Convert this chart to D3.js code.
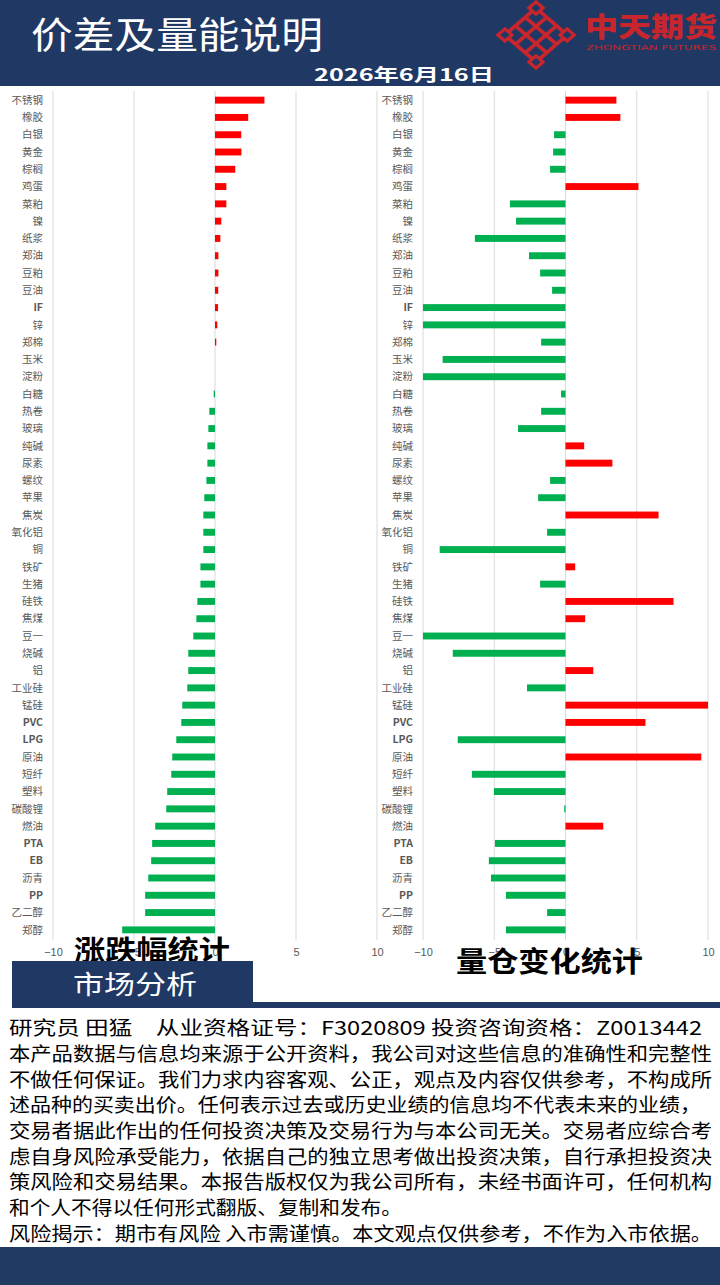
<!DOCTYPE html>
<html><head><meta charset="utf-8">
<script src="https://cdn.jsdelivr.net/npm/d3@7/dist/d3.min.js"></script>
<style>body{margin:0;background:#fff}svg{display:block}</style>
</head><body>
<svg id="c" width="720" height="1285"></svg>
<script>
const categories = ["不锈钢","橡胶","白银","黄金","棕榈","鸡蛋","菜粕","镍","纸浆","郑油","豆粕","豆油","IF","锌","郑棉","玉米","淀粉","白糖","热卷","玻璃","纯碱","尿素","螺纹","苹果","焦炭","氧化铝","铜","铁矿","生猪","硅铁","焦煤","豆一","烧碱","铝","工业硅","锰硅","PVC","LPG","原油","短纤","塑料","碳酸锂","燃油","PTA","EB","沥青","PP","乙二醇","郑醇"];
const priceChange = [3.05,2.05,1.62,1.63,1.25,0.70,0.70,0.39,0.33,0.21,0.21,0.20,0.19,0.14,0.08,0,0,-0.08,-0.35,-0.41,-0.47,-0.47,-0.53,-0.66,-0.72,-0.72,-0.72,-0.90,-0.90,-1.09,-1.15,-1.34,-1.65,-1.65,-1.71,-2.02,-2.08,-2.39,-2.64,-2.70,-2.95,-3.01,-3.69,-3.88,-3.94,-4.12,-4.31,-4.31,-5.73];
const oiChange = [3.57,3.85,-0.80,-0.87,-1.08,5.12,-3.90,-3.47,-6.36,-2.56,-1.78,-0.94,-10,-10,-1.71,-8.62,-10,-0.31,-1.71,-3.33,1.31,3.29,-1.08,-1.92,6.53,-1.29,-8.83,0.68,-1.78,7.58,1.38,-10,-7.91,1.95,-2.70,10,5.61,-7.56,9.53,-6.57,-5.02,-0.09,2.65,-4.95,-5.38,-5.23,-4.18,-1.29,-4.18];
const tickValues = [-10,-5,0,5,10];
const headerTitle = "价差及量能说明";
const dateText = "2026年6月16日";
const leftTitle = "涨跌幅统计";
const rightTitle = "量仓变化统计";
const sectionTitle = "市场分析";
const footerLines = [
 "研究员 田猛　从业资格证号：F3020809 投资咨询资格：Z0013442",
 "本产品数据与信息均来源于公开资料，我公司对这些信息的准确性和完整性",
 "不做任何保证。我们力求内容客观、公正，观点及内容仅供参考，不构成所",
 "述品种的买卖出价。任何表示过去或历史业绩的信息均不代表未来的业绩，",
 "交易者据此作出的任何投资决策及交易行为与本公司无关。交易者应综合考",
 "虑自身风险承受能力，依据自己的独立思考做出投资决策，自行承担投资决",
 "策风险和交易结果。本报告版权仅为我公司所有，未经书面许可，任何机构",
 "和个人不得以任何形式翻版、复制和发布。",
 "风险揭示：期市有风险 入市需谨慎。本文观点仅供参考，不作为入市依据。"
];
const footerWidths = [693,703,703,692,703,703,703,393,703];

const NAVY = "#203864", RED = "#FF0000", GREEN = "#00B050", GRID = "#D9D9D9", LBL = "#595959";
const FONT = "'Noto Sans CJK SC','Noto Sans',sans-serif";
const svg = d3.select("#c");

// header
svg.append("rect").attr("x",0).attr("y",0).attr("width",720).attr("height",86).attr("fill",NAVY);
svg.append("text").attr("x",31).attr("y",49).attr("fill","#fff").attr("font-family",FONT)
  .attr("font-size",37).attr("textLength",292).attr("lengthAdjust","spacingAndGlyphs").text(headerTitle);
svg.append("text").attr("x",314).attr("y",81).attr("fill","#fff").attr("font-family",FONT).attr("font-weight","bold")
  .attr("font-size",17).attr("textLength",180).attr("lengthAdjust","spacingAndGlyphs").text(dateText);

// logo (knot diamond)
const LOGO = "#C8252C";
const lg = svg.append("g").attr("transform","translate(536,35) scale(1,0.87) rotate(45)");
lg.append("rect").attr("x",-22).attr("y",-22).attr("width",44).attr("height",44).attr("fill","none").attr("stroke",LOGO).attr("stroke-width",4);
[-7,7].forEach(v=>{
  lg.append("line").attr("x1",v).attr("x2",v).attr("y1",-22).attr("y2",22).attr("stroke",LOGO).attr("stroke-width",4);
  lg.append("line").attr("y1",v).attr("y2",v).attr("x1",-22).attr("x2",22).attr("stroke",LOGO).attr("stroke-width",4);
});
[[-22,-22],[22,-22],[-22,22],[22,22]].forEach(([x,y])=>{
  lg.append("rect").attr("x",x-5).attr("y",y-5).attr("width",10).attr("height",10).attr("fill",NAVY).attr("stroke",LOGO).attr("stroke-width",3.5);
});
svg.append("text").attr("x",585).attr("y",37).attr("fill",LOGO).attr("font-family",FONT).attr("font-weight","900")
  .attr("font-size",27).attr("textLength",132).attr("lengthAdjust","spacingAndGlyphs").text("中天期货");
svg.append("text").attr("x",586).attr("y",50).attr("fill",LOGO).attr("font-family","'DejaVu Sans',sans-serif")
  .attr("font-size",7).attr("textLength",130).attr("lengthAdjust","spacingAndGlyphs").text("ZHONGTIAN FUTURES");

// charts
const y = d3.scaleBand().domain(categories).range([91.5,938.5]).paddingInner(0.6).paddingOuter(0.3);
const isLatin = s => /^[A-Za-z]+$/.test(s);

function drawChart(xRange, labelX, values, ticks) {
  const x = d3.scaleLinear().domain([-10,10]).range(xRange);
  const g = svg.append("g");
  g.selectAll("line.grid").data(ticks).join("line")
    .attr("x1",d=>x(d)).attr("x2",d=>x(d)).attr("y1",91).attr("y2",940)
    .attr("stroke",GRID).attr("stroke-width",1);
  g.selectAll("rect.bar").data(categories).join("rect")
    .attr("x",(d,i)=>x(Math.max(-10,Math.min(0,values[i]))))
    .attr("width",(d,i)=>Math.abs(x(Math.max(-10,Math.min(10,values[i])))-x(0)))
    .attr("y",d=>y(d)).attr("height",y.bandwidth())
    .attr("fill",(d,i)=>values[i]>=0?RED:GREEN);
  g.selectAll("text.cat").data(categories).join("text")
    .attr("x",labelX).attr("y",d=>y(d)+y.bandwidth()/2).attr("dy","0.36em")
    .attr("text-anchor","end").attr("font-family",FONT).attr("font-size",10.5)
    .attr("font-weight",d=>isLatin(d)?"bold":"normal").attr("fill",LBL).text(d=>d);
  const ax = g.append("g").attr("transform","translate(0,950)")
    .call(d3.axisBottom(x).tickValues(ticks).tickSize(0).tickFormat(d3.format("d")));
  ax.select(".domain").remove();
  ax.selectAll("text").attr("font-family","'Liberation Sans','Noto Sans',sans-serif").attr("font-size",11).attr("fill",LBL).attr("dy","0.3em");
  return x;
}
drawChart([53,377], 43, priceChange, tickValues);
drawChart([423,708], 413, oiChange, tickValues);

// chart titles
svg.append("text").attr("x",74).attr("y",960).attr("fill","#000").attr("font-family",FONT).attr("font-weight","bold")
  .attr("font-size",27).attr("textLength",156).attr("lengthAdjust","spacingAndGlyphs").text(leftTitle);
svg.append("text").attr("x",456).attr("y",972).attr("fill","#000").attr("font-family",FONT).attr("font-weight","bold")
  .attr("font-size",28).attr("textLength",187).attr("lengthAdjust","spacingAndGlyphs").text(rightTitle);

// section box
svg.append("rect").attr("x",12).attr("y",961).attr("width",241).attr("height",44).attr("fill",NAVY);
svg.append("rect").attr("x",12).attr("y",1002).attr("width",708).attr("height",6).attr("fill",NAVY);
svg.append("text").attr("x",73).attr("y",994).attr("fill","#fff").attr("font-family",FONT)
  .attr("font-size",26).attr("textLength",124).attr("lengthAdjust","spacingAndGlyphs").text(sectionTitle);

// footer text
const lineY = [1028,1054,1080,1105,1131,1157,1182,1208,1234];
footerLines.forEach((t,i)=>{
  svg.append("text").attr("x",9).attr("y",lineY[i]+7).attr("fill","#000").attr("font-family",FONT)
    .attr("font-size",19).attr("textLength",footerWidths[i]).attr("lengthAdjust","spacingAndGlyphs").text(t);
});
svg.append("rect").attr("x",0).attr("y",1247).attr("width",720).attr("height",38).attr("fill","#213A63");
</script>
</body></html>
